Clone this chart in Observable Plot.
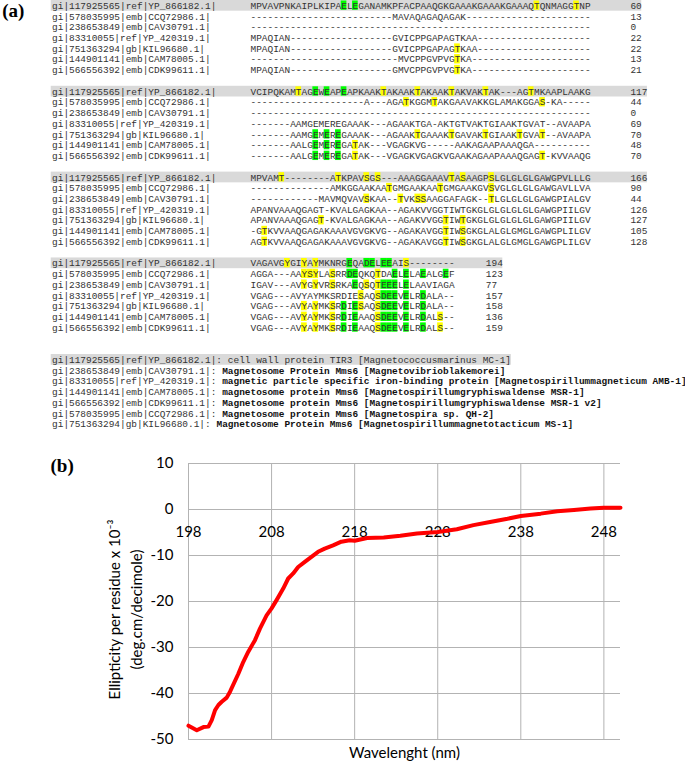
<!DOCTYPE html>
<html><head><meta charset="utf-8">
<script src="https://cdn.jsdelivr.net/npm/d3@7"></script>
<script src="https://cdn.jsdelivr.net/npm/@observablehq/plot@0.6"></script>
<style>html,body{margin:0;padding:0;background:#fff;overflow:hidden} svg{display:block}</style>
</head><body><div id="fig"></div>
<script>
// ---------- data: alignment (panel a) ----------
const seqNames = [
  "gi|117925565|ref|YP_866182.1|",
  "gi|578035995|emb|CCQ72986.1|",
  "gi|238653849|emb|CAV30791.1|",
  "gi|83310055|ref|YP_420319.1|",
  "gi|751363294|gb|KIL96680.1|",
  "gi|144901141|emb|CAM78005.1|",
  "gi|566556392|emb|CDK99611.1|"
];
// "-N" = run of N gap characters
const block1 = [
  "MPVAVPNKAIPLKIPAELEGANAMKPFACPAAQGKGAAAKGAAAKGAAAQTQNMAGGTNP",
  "-25MAVAQAGAQAGAK-22",
  "-60",
  "MPAQIAN-18GVICPPGAPAGTKAA-20",
  "MPAQIAN-18GVICPPGAPAGTKAA-20",
  "-26MVCPPGVPVGTKA-21",
  "MPAQIAN-18GMVCPPGVPVGTKA-21"
];
const block2 = [
  "VCIPQKAMTAGEWEAPEAPKAAKTAKAAKTAKAAKTAKVAKTAK-3AGTMKAAPLAAKG",
  "-20A-3AGATKGGMTAKGAAVAKKGLAMAKGGAS-KA-5",
  "-60",
  "-7AAMGEMEREGAAAK-3AGAAKTGA-AKTGTVAKTGIAAKTGVAT-2AVAAPA",
  "-7AAMGEMEREGAAAK-3AGAAKTGAAAKTGAVAKTGIAAKTGVAT-2AVAAPA",
  "-7AALGEMEREGATAK-3VGAGKVG-5AAKAGAAPAAAQGA-10",
  "-7AALGEMEREGATAK-3VGAGKVGAGKVGAAKAGAAPAAAQGAGT-KVVAAQG"
];
const block3 = [
  "MPVAMT-8ATKPAVSGS-3AAAGGAAAVTASAAGPSLGLGLGLGAWGPVLLLG",
  "-14AMKGGAAKAATGMGAAKAATGMGAAKGVSVGLGLGLGAWGAVLLVA",
  "-12MAVMQVAVSKAA-2TVKSSAAGGAFAGK-2TLGLGLGLGAWGPIALGV",
  "APANVAAAQGAGT-KVALGAGKAA-2AGAKVVGGTIWTGKGLGLGLGLGLGAWGPIILGV",
  "APANVAAAQGAGT-KVALGAGKAA-2AGAKVVGGTIWTGKGLGLGLGLGLGAWGPIILGV",
  "-GTKVVAAQGAGAKAAAVGVGKVG-2AGAKAVGGTIWSGKGLALGLGMGLGAWGPLILGV",
  "AGTKVVAAQGAGAKAAAVGVGKVG-2AGAKAVGGTIWSGKGLALGLGMGLGAWGPLILGV"
];
const block4 = [
  "VAGAVGYGIYAYMKNRGEQADELEEAIS-8",
  "AGGA-3AAYSYLASRRDEQKQTDAELELAEALGEF",
  "IGAV-3AVYGYVRSRKAEQSQTEEELELAAVIAGA",
  "VGAG-3AVYAYMKSRDIESAQSDEEVELRDALA-2",
  "VGAG-3AVYAYMKSRDIESAQSDEEVELRDALA-2",
  "VGAG-3AVYAYMKSRDIEAAQSDEEVELRDALS-2",
  "VGAG-3AVYAYMKSRDIEAAQSDEEVELRDALS-2"
];
const blockEnds = [
  [60, 13, 0, 22, 22, 13, 21],
  [117, 44, 0, 69, 70, 48, 70],
  [166, 90, 44, 126, 127, 105, 128],
  [194, 123, 77, 157, 158, 136, 159]
];
// [block, row, colour (y = yellow, g = green), columns]
const highlights = [
  [0,0,"g",[16,18]], [0,0,"y",[50,57]], [0,4,"y",[36]], [0,5,"y",[36]], [0,6,"y",[36]],
  [1,0,"y",[8,23,29,35,41,49]], [1,0,"g",[11,13,16]], [1,1,"y",[27,32,51]],
  [1,4,"g",[11,13,15]], [1,4,"y",[29,35,41,47,51]], [1,5,"g",[11,13,15]], [1,5,"y",[18]],
  [1,6,"g",[11,13,15]], [1,6,"y",[18,51]],
  [2,0,"y",[5,15,20,22,35,37,42]], [2,1,"y",[24,33,42]], [2,2,"y",[20,26,29,30,42]],
  [2,4,"y",[12,34,37]], [2,5,"y",[2,34,37]], [2,6,"y",[2,34,37]],
  [3,0,"y",[6,9,11,27]], [3,0,"g",[17,20,21,23,24]],
  [3,1,"y",[9,10,11,14,22]], [3,1,"g",[17,18,25,27,30,34]],
  [3,2,"y",[9,11,14,20,22]], [3,2,"g",[18,23,24,25,27]],
  [3,3,"y",[19,22]], [3,3,"g",[23,24,25,27,30]],
  [3,4,"y",[9,11,14,19,22]], [3,4,"g",[16,18,23,24,25,27,30]],
  [3,5,"y",[9,11,14,22,33]], [3,5,"g",[16,18,23,24,25,27,30]],
  [3,6,"y",[9,11,14,22,33]], [3,6,"g",[16,18,23,24,25,27,30]]
];
const descIds = [
  "gi|117925565|ref|YP_866182.1|:",
  "gi|238653849|emb|CAV30791.1|:",
  "gi|83310055|ref|YP_420319.1|:",
  "gi|144901141|emb|CAM78005.1|:",
  "gi|566556392|emb|CDK99611.1|:",
  "gi|578035995|emb|CCQ72986.1|:",
  "gi|751363294|gb|KIL96680.1|:"
];
const descTexts = [
  "cell wall protein TIR3 [Magnetococcusmarinus MC-1]",
  "Magnetosome Protein Mms6 [Magnetovibrioblakemorei]",
  "magnetic particle specific iron-binding protein [Magnetospirillummagneticum AMB-1]",
  "magnetosome protein Mms6 [Magnetospirillumgryphiswaldense MSR-1]",
  "Magnetosome protein Mms6 [Magnetospirillumgryphiswaldense MSR-1 v2]",
  "Magnetosome protein Mms6 [Magnetospira sp. QH-2]",
  "Magnetosome Protein Mms6 [Magnetospirillummagnetotacticum MS-1]"
];

// ---------- data: CD spectrum (panel b) ----------
const wavelength = [198, 199, 199.8, 200.4, 200.8, 201.2, 201.6, 202, 202.6, 203, 204, 204.6, 205.2, 206, 206.6, 207.4, 208, 208.6, 209.4, 210, 210.6, 211.2, 212, 212.8, 213.6, 214.4, 215.4, 216.4, 217.4, 218, 219.5, 221.5, 223.5, 225.5, 228, 230.3, 232.3, 234.3, 236.4, 238, 240.4, 242.4, 244.4, 246.4, 248, 250];
const ellipticity = [-47.0, -48.0, -47.3, -47.2, -45.8, -43.6, -42.5, -41.8, -40.9, -39.6, -35.7, -33.1, -30.9, -28.4, -25.9, -23.0, -21.5, -19.7, -17.2, -15.0, -13.9, -12.5, -11.4, -10.3, -9.2, -8.5, -7.8, -7.0, -6.7, -6.8, -6.2, -6.1, -5.7, -5.2, -4.9, -4.3, -3.4, -2.7, -2.0, -1.4, -0.9, -0.4, -0.1, 0.2, 0.4, 0.4];
const xTicks = [198, 208, 218, 228, 238, 248];
const yTicks = [10, 0, -10, -20, -30, -40, -50];

// ---------- build panel a ----------
const expand = s => s.replace(/-(\d+)/g, (m, n) => "-".repeat(+n));
const blocks = [block1, block2, block3, block4];
const numGap = [7, 7, 7, 5.5];
const nameCol = -35;
const linesPerBlock = 8;
const chars = [], nameRows = [], numRows = [], bars = [], hlRects = [];
blocks.forEach((blk, b) => blk.forEach((s, r) => {
  const seq = expand(s), L = b * linesPerBlock + r;
  for (let i = 0; i < seq.length; i++) chars.push({col: i, L, ch: seq[i]});
  nameRows.push({L, text: seqNames[r]});
  const nc = seq.length + numGap[b], t = String(blockEnds[b][r]);
  numRows.push({L, col: nc, text: t});
  if (r === 0) bars.push({x1: nameCol - 0.15, x2: nc + t.length, L});
}));
highlights.forEach(([b, r, c, cols]) => cols.forEach(col =>
  hlRects.push({col, L: b * linesPerBlock + r, fill: c === "y" ? "#ffff00" : "#00ff00"})));
const descStart = blocks.length * linesPerBlock + 1;
const descRows = descIds.map((id, i) => ({L: descStart + i, id, text: descTexts[i], bold: i > 0, col2: nameCol + id.length + 1}));
bars.push({x1: nameCol - 0.15, x2: nameCol + descIds[0].length + 1 + descTexts[0].length, L: descStart});

const cw = 5.67, mono = "Liberation Mono, Courier New, monospace", fs = 9.45, tc = "#333";
const lastL = descStart + descIds.length - 1;
const plotA = Plot.plot({
  width: 685, height: 440,
  marginLeft: 250, marginRight: 685 - 250 - 60 * cw, marginTop: 5.3, marginBottom: 440 - (5.3 + lastL * 10.73),
  x: {domain: [0, 60], axis: null},
  y: {domain: [0, lastL], reverse: true, axis: null},
  marks: [
    Plot.rect(bars, {x1: "x1", x2: "x2", y1: d => d.L - 0.5, y2: d => d.L + 0.5, fill: "#d9d9d9"}),
    Plot.rect(hlRects, {x1: "col", x2: d => d.col + 1, y1: d => d.L - 0.45, y2: d => d.L + 0.42, fill: "fill"}),
    Plot.text(chars, {x: d => d.col + 0.5, y: "L", text: "ch", fontFamily: mono, fontSize: fs, fill: tc}),
    Plot.text(nameRows, {x: nameCol, y: "L", text: "text", textAnchor: "start", fontFamily: mono, fontSize: fs, fill: tc}),
    Plot.text(numRows, {x: "col", y: "L", text: "text", textAnchor: "start", fontFamily: mono, fontSize: fs, fill: tc}),
    Plot.text(descRows, {x: nameCol, y: "L", text: "id", textAnchor: "start", fontFamily: mono, fontSize: fs, fill: tc}),
    Plot.text(descRows.filter(d => !d.bold), {x: "col2", y: "L", text: "text", textAnchor: "start", fontFamily: mono, fontSize: fs, fill: tc}),
    Plot.text(descRows.filter(d => d.bold), {x: "col2", y: "L", text: "text", textAnchor: "start", fontFamily: mono, fontSize: fs, fontWeight: "bold", fill: "#111"}),
    Plot.text(["(a)"], {x: nameCol - 8.8, y: 0.45, text: d => d, textAnchor: "start", fontFamily: "Liberation Serif, serif", fontWeight: "bold", fontSize: 19, fill: "#000"})
  ]
});

// ---------- build panel b ----------
const curve = wavelength.map((w, i) => ({w, v: ellipticity[i]}));
const grid = "#b3b3b3";
const plotB = Plot.plot({
  width: 685, height: 321,
  marginLeft: 188, marginRight: 65, marginTop: 23, marginBottom: 22,
  style: {fontFamily: "Lato, sans-serif", fontSize: "15px", color: "#000", background: "#fff"},
  x: {domain: [198, 250], axis: null},
  y: {domain: [-50, 10], ticks: yTicks, tickSize: 0, tickPadding: 15, tickFormat: d => String(d), label: null},
  marks: [
    Plot.ruleX(xTicks, {x: d => d, stroke: grid, strokeWidth: 1}),
    Plot.ruleY(yTicks, {y: d => d, stroke: grid, strokeWidth: 1}),
    Plot.text(xTicks, {x: d => d, y: 0, dy: 23, text: d => String(d), fontSize: 15, fill: "#000"}),
    Plot.line(curve, {x: "w", y: "v", stroke: "#ff0000", strokeWidth: 4, strokeLinejoin: "round", strokeLinecap: "round"}),
    Plot.text(["Wavelenght (nm)"], {frameAnchor: "bottom", lineAnchor: "middle", textAnchor: "middle", dy: 14, text: d => d, fontSize: 15, fill: "#000"}),
    Plot.text(["Ellipticity per residue x 10⁻³"], {frameAnchor: "left", lineAnchor: "middle", textAnchor: "middle", dx: -73, dy: 8, rotate: -90, text: d => d, fontSize: 15, fill: "#000"}),
    Plot.text(["(deg.cm/decimole)"], {frameAnchor: "left", lineAnchor: "middle", textAnchor: "middle", dx: -51, dy: 8, rotate: -90, text: d => d, fontSize: 15, fill: "#000"}),
    Plot.text(["(b)"], {frameAnchor: "top-left", lineAnchor: "middle", dx: -138, dy: 2, text: d => d, textAnchor: "start", fontFamily: "Liberation Serif, serif", fontWeight: "bold", fontSize: 19, fill: "#000"})
  ]
});

const fig = document.getElementById("fig");
fig.appendChild(plotA);
fig.appendChild(plotB);
</script>
</body></html>
